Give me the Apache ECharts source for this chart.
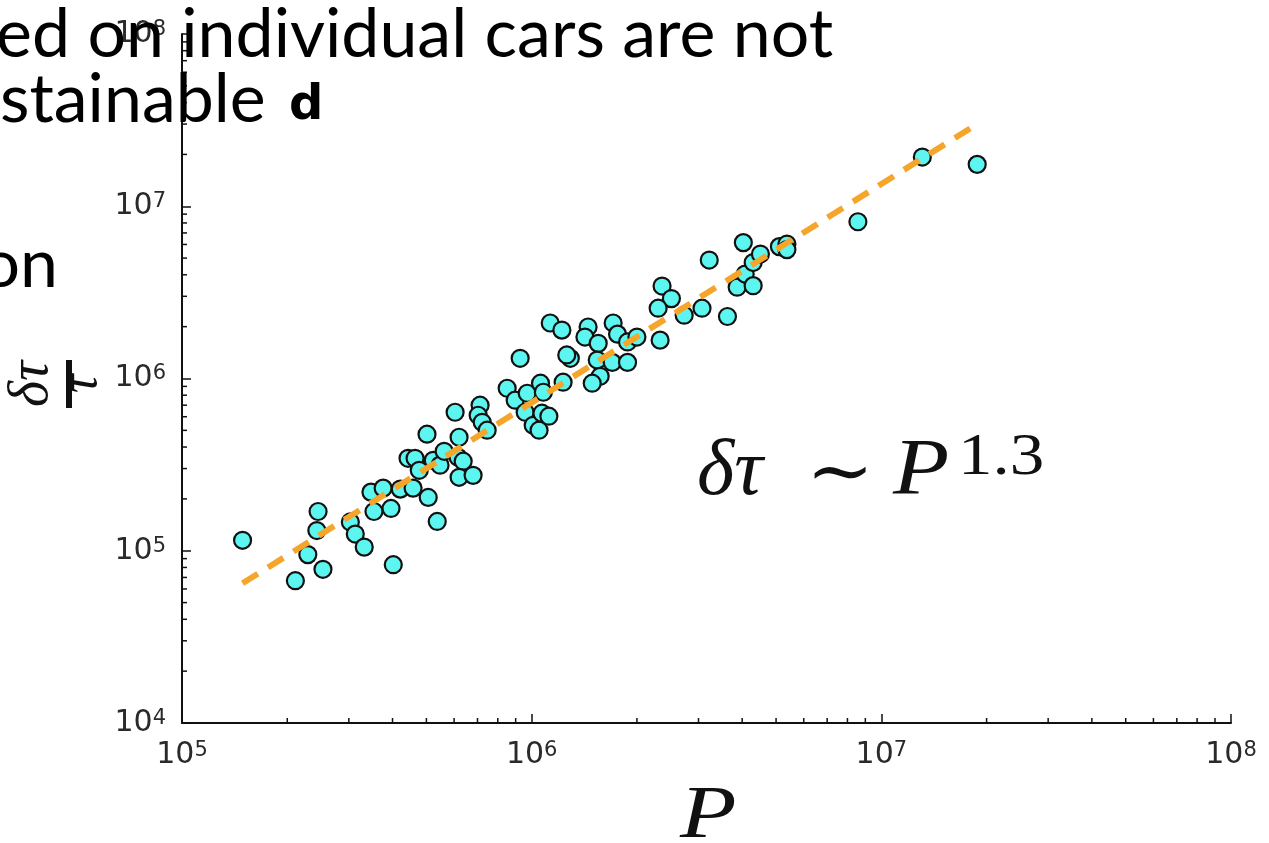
<!DOCTYPE html>
<html>
<head>
<meta charset="utf-8">
<script src="https://cdn.jsdelivr.net/npm/echarts@6/dist/echarts.min.js"></script>
<style>
  html, body { margin: 0; padding: 0; background: #fff; }
  #chart { width: 1269px; height: 843px; }
</style>
</head>
<body>
<div id="chart"></div>
<script>
// Population P versus delay δτ/τ (log–log), one point per city
const P = [
  1.49e5, 2.11e5, 2.53e5, 2.29e5, 2.43e5, 2.45e5, 3.03e5, 3.13e5, 3.32e5, 4.02e5,
  3.47e5, 3.76e5, 3.54e5, 3.96e5, 4.21e5, 4.58e5, 5.06e5, 5.37e5, 4.43e5, 4.64e5,
  5.02e5, 4.77e5, 5.23e5, 5.47e5, 5.62e5, 6.04e5, 6.20e5, 6.16e5, 6.37e5, 6.20e5,
  6.80e5, 7.12e5, 7.03e5, 7.22e5, 7.46e5, 9.27e5, 8.51e5, 8.97e5, 9.71e5, 9.58e5,
  1.01e6, 1.05e6, 1.06e6, 1.08e6, 1.07e6, 1.12e6, 1.13e6, 1.22e6, 1.23e6, 1.29e6,
  1.26e6, 1.45e6, 1.42e6, 1.55e6, 1.54e6, 1.57e6, 1.49e6, 1.71e6, 1.76e6, 1.88e6,
  2.00e6, 1.70e6, 1.88e6, 2.36e6, 2.51e6, 2.30e6, 2.33e6, 2.73e6, 3.07e6, 3.22e6,
  3.63e6, 3.87e6, 4.03e6, 4.08e6, 4.30e6, 4.30e6, 4.51e6, 5.11e6, 5.37e6, 5.37e6,
  8.57e6, 1.31e7, 1.88e7
];
const dTau = [
  1.15e5, 6.7e4, 7.8e4, 9.5e4, 1.31e5, 1.69e5, 1.47e5, 1.25e5, 1.05e5, 8.3e4,
  2.19e5, 2.31e5, 1.69e5, 1.76e5, 2.28e5, 2.31e5, 2.04e5, 1.48e5, 3.44e5, 3.44e5,
  4.75e5, 2.93e5, 3.35e5, 3.14e5, 3.78e5, 6.37e5, 4.56e5, 3.49e5, 3.31e5, 2.67e5,
  2.74e5, 7.00e5, 6.12e5, 5.57e5, 5.01e5, 1.31e6, 8.78e5, 7.48e5, 8.21e5, 6.37e5,
  5.35e5, 5.01e5, 9.39e5, 8.32e5, 6.29e5, 6.04e5, 2.10e6, 1.91e6, 9.52e5, 1.31e6,
  1.37e6, 1.99e6, 1.74e6, 1.60e6, 1.28e6, 1.03e6, 9.39e5, 2.10e6, 1.81e6, 1.63e6,
  1.74e6, 1.24e6, 1.24e6, 3.44e6, 2.91e6, 2.56e6, 1.67e6, 2.33e6, 2.56e6, 4.87e6,
  2.29e6, 3.39e6, 6.15e6, 4.04e6, 3.46e6, 4.71e6, 5.28e6, 5.83e6, 6.03e6, 5.60e6,
  8.13e6, 1.93e7, 1.75e7
];

// Power-law fit δτ ~ P^1.3, drawn between its two end points
const fitP = [1.49e5, 1.88e7];
const fitTau = [6.47e4, 3.0e7];

// Axis ranges (decades)
const X_MIN = 1e5, X_MAX = 1e8;
const Y_MIN = 1e4, Y_MAX = 1e8;

// Minor log ticks at 2..9 × 10^k
const minorMult = [2, 3, 4, 5, 6, 7, 8, 9];
const minorTicks = [];
for (let d = X_MIN; d < X_MAX; d *= 10) minorMult.forEach(m => minorTicks.push([m * d, Y_MIN, 0]));
for (let d = Y_MIN; d < Y_MAX; d *= 10) minorMult.forEach(m => minorTicks.push([X_MIN, m * d, 1]));

const points = P.map((p, i) => [p, dTau[i]]);
const fitLine = fitP.map((p, i) => [p, fitTau[i]]);

function powLabel(v) {
  const e = Math.round(Math.log10(v));
  return '{b|10}{e|' + e + '}';
}
const labelRich = {
  b: { fontFamily: 'DejaVu Sans', fontSize: 30, color: '#2a2a2a', lineHeight: 30, padding: [10, 0, 0, 0], verticalAlign: 'bottom' },
  e: { fontFamily: 'DejaVu Sans', fontSize: 21, color: '#2a2a2a', lineHeight: 20, verticalAlign: 'top' }
};

const axisCommon = {
  type: 'log',
  logBase: 10,
  axisLine: { show: true, lineStyle: { color: '#111', width: 2 } },
  axisTick: { show: true, inside: true, length: 9, lineStyle: { color: '#111', width: 1.5 } },
  splitLine: { show: false },
  minorTick: { show: false },
  minorSplitLine: { show: false }
};

// Serif math text: place by baseline (top = baseline - 0.8 * size)
function mathText(str, left, baseline, size, italic, widen) {
  return {
    type: 'text', x: left, y: baseline - 0.8 * size, z: 10,
    scaleX: widen || 1,
    style: {
      text: str, fontFamily: 'Liberation Serif',
      fontStyle: italic ? 'italic' : 'normal', fontSize: size, fill: '#111'
    }
  };
}

const chart = echarts.init(document.getElementById('chart'), null, { renderer: 'canvas' });

chart.setOption({
  backgroundColor: '#ffffff',
  animation: false,
  grid: { left: 182, top: 34, right: 38, bottom: 120, containLabel: false },
  xAxis: Object.assign({}, axisCommon, {
    min: X_MIN, max: X_MAX,
    axisLabel: { formatter: powLabel, rich: labelRich, margin: 17, showMinLabel: true, showMaxLabel: true }
  }),
  yAxis: Object.assign({}, axisCommon, {
    min: Y_MIN, max: Y_MAX,
    axisLabel: { formatter: powLabel, rich: labelRich, margin: 16, showMinLabel: true, showMaxLabel: true }
  }),
  series: [
    {
      type: 'custom',
      silent: true,
      clip: false,
      data: minorTicks,
      encode: { x: 0, y: 1 },
      renderItem: function (params, api) {
        const p = api.coord([api.value(0), api.value(1)]);
        const horizontalAxis = api.value(2) === 0;
        const shape = horizontalAxis
          ? { x1: p[0], y1: p[1], x2: p[0], y2: p[1] - 5 }
          : { x1: p[0], y1: p[1], x2: p[0] + 5, y2: p[1] };
        return { type: 'line', shape: shape, style: { stroke: '#111', lineWidth: 1.5 } };
      },
      z: 3
    },
    {
      type: 'scatter',
      data: points,
      symbol: 'circle',
      symbolSize: 17,
      itemStyle: { color: '#5cf5f0', borderColor: '#111', borderWidth: 2.2, opacity: 1 },
      z: 4
    },
    {
      type: 'line',
      data: fitLine,
      symbol: 'none',
      lineStyle: { color: '#f5a52a', width: 6, type: [18, 12], cap: 'butt' },
      z: 5
    }
  ],
  graphic: [
    // equation annotation δτ ∼ P^1.3
    mathText('δτ', 697, 497, 80, true),
    {
      type: 'text', x: 806, y: 477, z: 10, scaleX: 1.1,
      style: { text: '∼', fontFamily: 'DejaVu Serif', fontSize: 74, fill: '#111', verticalAlign: 'middle' }
    },
    mathText('P', 893, 497, 80, true, 1.15),
    mathText('1.3', 958, 476, 60, false, 1.15),
    // x-axis title
    mathText('P', 680, 840, 74, true, 1.25),
    // y-axis title: fraction δτ / τ, rotated
    {
      type: 'group', x: 69, y: 384, rotation: Math.PI / 2, z: 10,
      children: [
        { type: 'text', x: 0, y: -37, style: { text: 'δτ', fontFamily: 'Liberation Serif', fontStyle: 'italic', fontSize: 56, fill: '#111', align: 'center', verticalAlign: 'middle' } },
        { type: 'rect', shape: { x: -24, y: -3, width: 48, height: 6 }, style: { fill: '#111' } },
        { type: 'text', x: 0, y: 13, style: { text: 'τ', fontFamily: 'Liberation Serif', fontStyle: 'italic', fontSize: 52, fill: '#111', align: 'center', verticalAlign: 'middle' } }
      ]
    },
    // slide text around the chart
    {
      type: 'text', x: -4, y: 1, z: 20,
      style: { text: 'ed on individual cars are not', fontFamily: 'Lato', fontSize: 68, fill: '#000' }
    },
    {
      type: 'text', x: 0, y: 66, z: 20,
      style: { text: 'stainable', fontFamily: 'Lato', fontSize: 68, fill: '#000' }
    },
    {
      type: 'text', x: 289, y: 83, z: 20,
      style: { text: 'd', fontFamily: 'DejaVu Sans', fontWeight: 'bold', fontSize: 48, fill: '#000' }
    },
    {
      type: 'text', x: 58, y: 231, z: 20,
      style: { text: 'on', fontFamily: 'Lato', fontSize: 68, fill: '#000', align: 'right' }
    }
  ]
});
</script>
</body>
</html>
